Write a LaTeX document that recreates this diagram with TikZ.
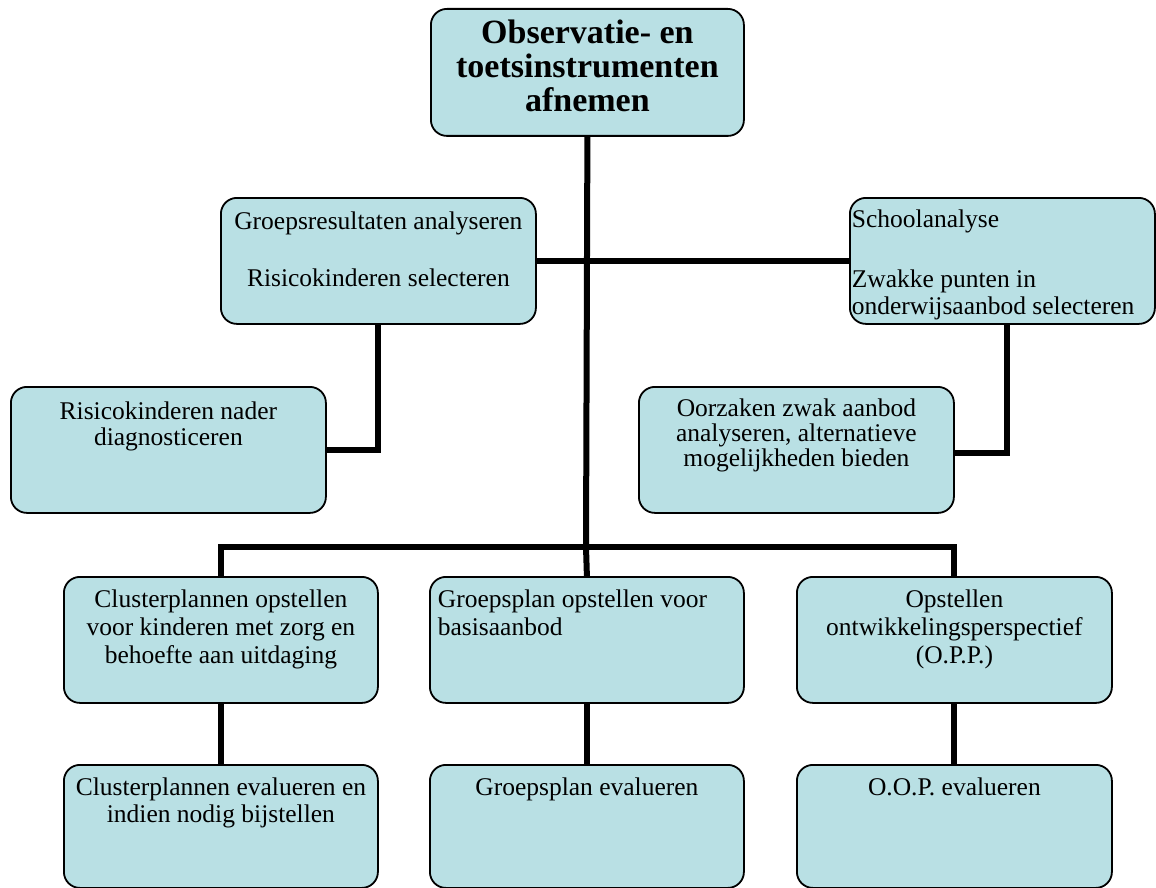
\documentclass[tikz,border=0pt]{standalone}
\usepackage{fontspec}
\setmainfont{Liberation Serif}
\definecolor{boxfill}{RGB}{185,224,228}
\newcommand{\bxtext}[5]{\parbox[c][#2][t]{#1}{#3\rule{0pt}{#4}#5}}
\tikzset{
  box/.style={draw=black, line width=1.8pt, fill=boxfill, rounded corners=16pt, inner sep=0pt, anchor=north west, rectangle},
  conn/.style={draw=black, line width=6pt, line join=miter},
}
\begin{document}
\begin{tikzpicture}[x=1pt,y=-1pt]
\useasboundingbox (0,0) rectangle (1156,888);
% nodes
\node[box] (top) at (430,8) {\bxtext{313pt}{127pt}{\centering\fontsize{34}{34}\selectfont\bfseries}{35pt}{Observatie- en\\toetsinstrumenten\\afnemen}};
\node[box] (groeps) at (220,197) {\bxtext{315pt}{126pt}{\centering\fontsize{25.5}{28.5}\selectfont}{32pt}{Groepsresultaten analyseren\\[28.5pt]Risicokinderen selecteren}};
\node[box] (school) at (849,197) {\bxtext{305pt}{126pt}{\raggedright\leftskip=2pt\fontsize{25.5}{27}\selectfont}{30pt}{Schoolanalyse\\[33pt]Zwakke punten in\\onderwijsaanbod selecteren}};
\node[box] (risico) at (10,386) {\bxtext{315pt}{126pt}{\centering\fontsize{25.5}{26}\selectfont}{33pt}{Risicokinderen nader\\diagnosticeren}};
\node[box] (oorz) at (638,386) {\bxtext{315pt}{126pt}{\centering\fontsize{25.5}{24.7}\selectfont}{30pt}{Oorzaken zwak aanbod\\analyseren, alternatieve\\mogelijkheden bieden}};
\node[box] (cluster) at (63,576) {\bxtext{314pt}{126pt}{\centering\fontsize{25.5}{27.7}\selectfont}{31pt}{Clusterplannen opstellen\\voor kinderen met zorg en\\behoefte aan uitdaging}};
\node[box] (gplan) at (429,576) {\bxtext{314pt}{126pt}{\raggedright\leftskip=8pt\fontsize{25.5}{28}\selectfont}{31pt}{Groepsplan opstellen voor\\basisaanbod}};
\node[box] (opp) at (796,576) {\bxtext{315pt}{126pt}{\centering\fontsize{25.5}{27.7}\selectfont}{31pt}{Opstellen\\ontwikkelingsperspectief\\(O.P.P.)}};
\node[box] (clusterE) at (63,764) {\bxtext{314pt}{123pt}{\centering\fontsize{25.5}{27}\selectfont}{31pt}{Clusterplannen evalueren en\\indien nodig bijstellen}};
\node[box] (gplanE) at (429,764) {\bxtext{314pt}{123pt}{\centering\fontsize{25.5}{27}\selectfont}{31pt}{Groepsplan evalueren}};
\node[box] (oopE) at (796,764) {\bxtext{315pt}{123pt}{\centering\fontsize{25.5}{27}\selectfont}{31pt}{O.O.P. evalueren}};
% connectors
\coordinate (jM) at (586,547);
\draw[conn] (top.south) -- (jM);
\draw[conn] (groeps.east) -- (school.west);
\draw[conn] (groeps.south) |- (risico.east);
\draw[conn] ([xshift=5pt]school.south) |- ([yshift=-3pt]oorz.east);
\draw[conn] (cluster.north) -- (cluster.north |- jM) -- (opp.north |- jM) -- (opp.north);
\draw[conn] (jM) -- (gplan.north);
\draw[conn] (cluster.south) -- (clusterE.north);
\draw[conn] (gplan.south) -- (gplanE.north);
\draw[conn] (opp.south) -- (oopE.north);
\end{tikzpicture}
\end{document}
